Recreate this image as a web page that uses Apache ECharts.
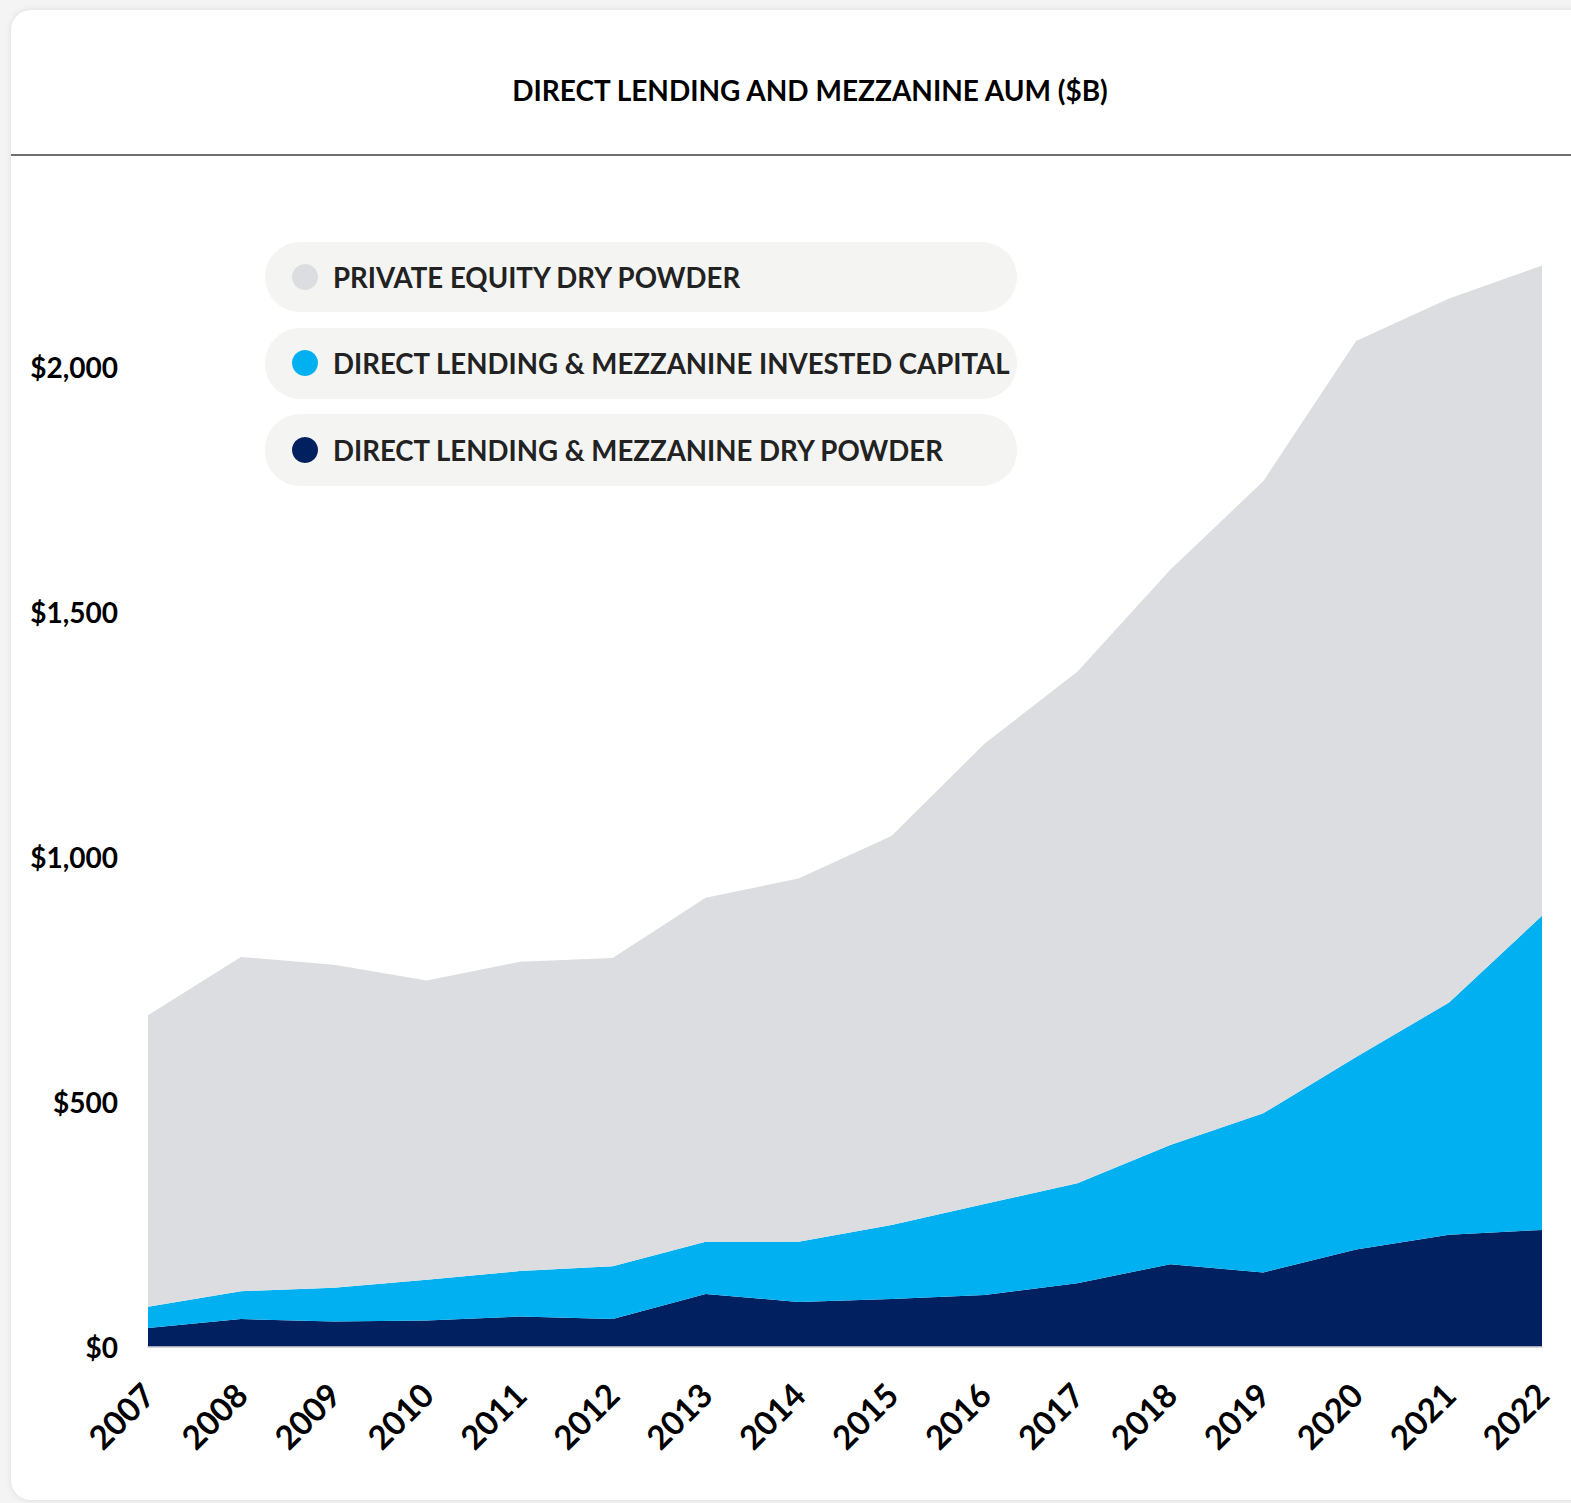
<!DOCTYPE html>
<html>
<head>
<meta charset="utf-8">
<script src="https://cdn.jsdelivr.net/npm/echarts@6/dist/echarts.min.js"></script>
<style>
  html, body { margin:0; padding:0; width:1571px; height:1503px; background:#f4f4f4; overflow:hidden; }
  #card { position:absolute; left:11px; top:10px; width:1620px; height:1490px; background:#fff;
          border-radius:20px; box-shadow:0 0 6px rgba(0,0,0,0.10); }
  #hdr { position:absolute; left:0; top:0; width:100%; height:144px; border-bottom:2px solid #6f6f6f; }
  #chart { position:absolute; left:0; top:0; width:1571px; height:1503px; }
</style>
</head>
<body>
<div id="card"><div id="hdr"></div></div>
<div id="chart"></div>
<script>
// ---- data (USD billions) ----
const years = ['2007','2008','2009','2010','2011','2012','2013','2014','2015','2016','2017','2018','2019','2020','2021','2022'];
const dlDryPowder      = [38, 56, 51, 53, 61, 56, 107, 91, 97, 105, 129, 168, 151, 198, 228, 238];
const dlInvestedCapital= [43, 57, 69, 83, 93, 108, 107, 123, 151, 186, 204, 243, 325, 393, 474, 641];
const peDryPowder      = [595, 682, 659, 611, 631, 629, 702, 741, 794, 939, 1044, 1174, 1290, 1461, 1437, 1327];
const yTicks = [0, 500, 1000, 1500, 2000];

const seriesNames = {
  pe: 'PRIVATE EQUITY DRY POWDER',
  inv: 'DIRECT LENDING & MEZZANINE INVESTED CAPITAL',
  dry: 'DIRECT LENDING & MEZZANINE DRY POWDER'
};
const colors = { pe:'#dcdde1', inv:'#00b0f0', dry:'#002060' };
const FONT = 'Lato';

const chart = echarts.init(document.getElementById('chart'), null, { renderer: 'svg' });

function legendFor(name, top) {
  return {
    data: [name], left: 292, top: top, orient: 'horizontal',
    icon: 'circle', itemWidth: 26, itemHeight: 26, padding: 0, z: 5,
    selectedMode: false,
    textStyle: { fontFamily: FONT, fontSize: 27.6, fontWeight: 'bold', color: '#222', padding: [0,0,0,10] }
  };
}

chart.setOption({
  animation: false,
  title: {
    text: 'DIRECT LENDING AND MEZZANINE AUM ($B)',
    left: 805, top: 71, textAlign: 'center',
    textStyle: { fontFamily: FONT, fontSize: 28, fontWeight: 'bold', color: '#000' }
  },
  graphic: [
    { type:'rect', z: 1, shape:{ x:265, y:242, width:752, height:70, r:35 }, style:{ fill:'#f4f4f3' } },
    { type:'rect', z: 1, shape:{ x:265, y:328, width:752, height:71, r:35 }, style:{ fill:'#f4f4f3' } },
    { type:'rect', z: 1, shape:{ x:265, y:414, width:752, height:72, r:35 }, style:{ fill:'#f4f4f3' } }
  ],
  legend: [
    legendFor(seriesNames.pe, 263),
    legendFor(seriesNames.inv, 349),
    legendFor(seriesNames.dry, 436)
  ],
  grid: { left: 148, right: 29, top: 170.5, bottom: 156.5, containLabel: false },
  xAxis: {
    type: 'category', data: years, boundaryGap: false,
    axisLine: { show: true, lineStyle: { color: '#d9d9d9', width: 2 } },
    axisTick: { show: false },
    axisLabel: { rotate: 45, margin: 42, interval: 0, color: '#000',
                 fontFamily: FONT, fontSize: 33, fontWeight: 'bold' },
    splitLine: { show: false }
  },
  yAxis: {
    type: 'value', min: 0, max: 2400, interval: 500,
    axisLine: { show: false }, axisTick: { show: false }, splitLine: { show: false },
    axisLabel: {
      margin: 30, color: '#000', fontFamily: FONT, fontSize: 28, fontWeight: 'bold',
      formatter: v => yTicks.includes(v) ? '$' + v.toLocaleString('en-US') : ''
    }
  },
  series: [
    { name: seriesNames.dry, type: 'line', stack: 'aum', data: dlDryPowder, symbol: 'none',
      lineStyle: { width: 0 }, itemStyle: { color: colors.dry }, areaStyle: { color: colors.dry, opacity: 1 } },
    { name: seriesNames.inv, type: 'line', stack: 'aum', data: dlInvestedCapital, symbol: 'none',
      lineStyle: { width: 0 }, itemStyle: { color: colors.inv }, areaStyle: { color: colors.inv, opacity: 1 } },
    { name: seriesNames.pe, type: 'line', stack: 'aum', data: peDryPowder, symbol: 'none',
      lineStyle: { width: 0 }, itemStyle: { color: colors.pe }, areaStyle: { color: colors.pe, opacity: 1 } }
  ]
});
</script>
</body>
</html>
